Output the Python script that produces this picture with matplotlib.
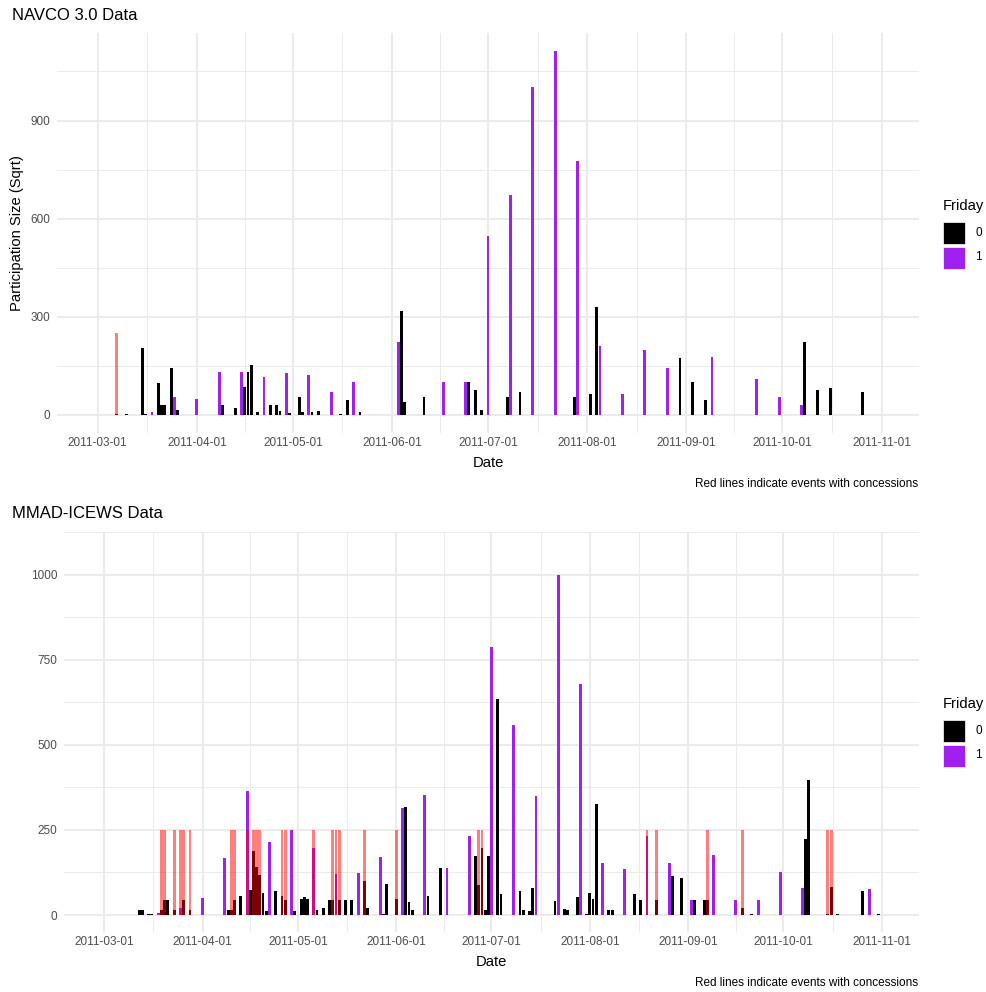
import matplotlib
matplotlib.use('Agg')
import matplotlib.pyplot as plt
from matplotlib.patches import Rectangle
import pandas as pd

plt.rcParams['font.family'] = ['Liberation Sans', 'DejaVu Sans']

W, H = 986, 992

# NAVCO 3.0 (participation size, sqrt)
navco_dates = ['2011-03-07', '2011-03-10', '2011-03-15', '2011-03-16', '2011-03-18', '2011-03-20',
               '2011-03-21', '2011-03-22', '2011-03-24', '2011-03-25', '2011-03-26', '2011-04-01',
               '2011-04-08', '2011-04-09', '2011-04-13', '2011-04-15', '2011-04-16', '2011-04-17',
               '2011-04-18', '2011-04-20', '2011-04-22', '2011-04-24', '2011-04-26', '2011-04-27',
               '2011-04-29', '2011-04-30', '2011-05-03', '2011-05-04', '2011-05-06', '2011-05-07',
               '2011-05-09', '2011-05-13', '2011-05-16', '2011-05-18', '2011-05-20', '2011-05-22',
               '2011-06-03', '2011-06-04', '2011-06-05', '2011-06-11', '2011-06-17', '2011-06-24',
               '2011-06-25', '2011-06-27', '2011-06-29', '2011-07-01', '2011-07-07', '2011-07-08',
               '2011-07-11', '2011-07-15', '2011-07-22', '2011-07-28', '2011-07-29', '2011-08-02',
               '2011-08-04', '2011-08-05', '2011-08-12', '2011-08-19', '2011-08-26', '2011-08-30',
               '2011-09-03', '2011-09-07', '2011-09-09', '2011-09-23', '2011-09-30', '2011-10-07',
               '2011-10-08', '2011-10-12', '2011-10-16', '2011-10-26']
navco_size = [3, 4, 204, 4, 8, 98,
              30, 30, 142, 54, 15, 48,
              130, 30, 22, 132, 84, 132,
              151, 9, 117, 30, 30, 13,
              127, 5, 54, 10, 122, 10,
              13, 71, 2, 45, 100, 9,
              222, 317, 38, 53, 99, 99,
              99, 76, 16, 548, 55, 672,
              69, 1002, 1112, 54, 776, 63,
              331, 209, 63, 199, 144, 173,
              99, 45, 176, 109, 54, 30,
              224, 77, 82, 69]
navco_concessions = ['2011-03-07']

# MMAD-ICEWS
mmad_dates = ['2011-03-12', '2011-03-13', '2011-03-15', '2011-03-16', '2011-03-18', '2011-03-19',
              '2011-03-20', '2011-03-21', '2011-03-23', '2011-03-25', '2011-03-26', '2011-03-28',
              '2011-04-01', '2011-04-08', '2011-04-09', '2011-04-10', '2011-04-11', '2011-04-13',
              '2011-04-15', '2011-04-16', '2011-04-17', '2011-04-18', '2011-04-19', '2011-04-20',
              '2011-04-21', '2011-04-22', '2011-04-24', '2011-04-26', '2011-04-27', '2011-04-29',
              '2011-04-30', '2011-05-02', '2011-05-03', '2011-05-04', '2011-05-06', '2011-05-07',
              '2011-05-09', '2011-05-11', '2011-05-12', '2011-05-13', '2011-05-14', '2011-05-16',
              '2011-05-18', '2011-05-20', '2011-05-22', '2011-05-23', '2011-05-27', '2011-05-28',
              '2011-05-29', '2011-06-01', '2011-06-03', '2011-06-04', '2011-06-05', '2011-06-06',
              '2011-06-10', '2011-06-11', '2011-06-15', '2011-06-17', '2011-06-24', '2011-06-26',
              '2011-06-27', '2011-06-28', '2011-06-29', '2011-06-30', '2011-07-01', '2011-07-03',
              '2011-07-04', '2011-07-08', '2011-07-10', '2011-07-11', '2011-07-13', '2011-07-14',
              '2011-07-15', '2011-07-21', '2011-07-22', '2011-07-24', '2011-07-25', '2011-07-28',
              '2011-07-29', '2011-07-31', '2011-08-01', '2011-08-02', '2011-08-03', '2011-08-05',
              '2011-08-07', '2011-08-08', '2011-08-12', '2011-08-15', '2011-08-17', '2011-08-19',
              '2011-08-22', '2011-08-26', '2011-08-27', '2011-08-30', '2011-09-02', '2011-09-03',
              '2011-09-06', '2011-09-07', '2011-09-09', '2011-09-16', '2011-09-18', '2011-09-21',
              '2011-09-23', '2011-09-30', '2011-10-07', '2011-10-08', '2011-10-09', '2011-10-15',
              '2011-10-16', '2011-10-18', '2011-10-26', '2011-10-28', '2011-10-31']
mmad_size = [14, 14, 4, 4, 6, 14,
             45, 45, 14, 20, 45, 14,
             51, 168, 14, 14, 45, 56,
             364, 74, 187, 140, 118, 65,
             13, 213, 70, 56, 45, 250,
             12, 46, 53, 47, 197, 16,
             20, 45, 45, 120, 45, 45,
             45, 123, 101, 21, 170, 4,
             92, 46, 313, 318, 38, 14,
             352, 56, 137, 137, 233, 173,
             89, 196, 16, 173, 788, 634,
             63, 559, 71, 14, 12, 78,
             351, 41, 998, 17, 14, 54,
             680, 4, 65, 46, 325, 153,
             14, 14, 134, 63, 45, 233,
             45, 153, 114, 110, 45, 45,
             45, 45, 176, 45, 21, 4,
             45, 127, 78, 224, 397, 4,
             83, 4, 70, 75, 4]
mmad_concessions = ['2011-03-19', '2011-03-20', '2011-03-23', '2011-03-25', '2011-03-26', '2011-03-28',
                    '2011-04-10', '2011-04-11', '2011-04-15', '2011-04-17', '2011-04-18', '2011-04-19',
                    '2011-04-26', '2011-04-27', '2011-05-06', '2011-05-12', '2011-05-13', '2011-05-14',
                    '2011-05-22', '2011-06-01', '2011-06-27', '2011-06-28', '2011-08-19', '2011-08-22',
                    '2011-09-07', '2011-09-18', '2011-10-15', '2011-10-16']
concession_height = 250

friday_labels = ['0', '1']
friday_colors = ['black', '#A020F0']
grey_text = '#4D4D4D'
grid_col = '#EBEBEB'

fig = plt.figure(figsize=(W / 100, H / 100), dpi=100)


def fx(x):
    return x / W


def fy(y):
    return 1 - y / H


def panel(box, dates, sizes, conc, yticks, ylim, title, ylabel, legend_y):
    l, t, r, b = box
    ax = fig.add_axes([fx(l), fy(b), (r - l) / W, (b - t) / H])
    d = pd.to_datetime(dates)
    cols = [friday_colors[1] if x.weekday() == 4 else friday_colors[0] for x in d]
    ax.bar(d, sizes, width=0.9, color=cols, linewidth=0, zorder=2)
    cd = pd.to_datetime(conc)
    ax.bar(cd, [concession_height] * len(cd), width=0.9, color='red', alpha=0.5,
           linewidth=0, zorder=3)

    start = pd.Timestamp('2011-03-01')
    ax.set_xlim(start - pd.Timedelta(days=12.7), start + pd.Timedelta(days=256.7))
    ax.set_ylim(*ylim)

    months = pd.date_range('2011-03-01', '2011-11-01', freq='MS')
    mids = [months[i] + (months[i + 1] - months[i]) / 2 for i in range(len(months) - 1)]
    ax.set_xticks(months)
    ax.set_xticklabels([m.strftime('%Y-%m-%d') for m in months])
    ax.set_xticks(mids, minor=True)
    ax.set_yticks(yticks)
    ax.set_yticklabels([str(v) for v in yticks])
    step = yticks[1] - yticks[0]
    ax.set_yticks([v + step / 2 for v in yticks], minor=True)

    ax.grid(which='major', color=grid_col, linewidth=1.4)
    ax.grid(which='minor', color=grid_col, linewidth=0.7)
    ax.set_axisbelow(True)
    for s in ax.spines.values():
        s.set_visible(False)
    ax.tick_params(which='both', length=0)
    ax.tick_params(axis='x', pad=3, labelsize=8.5, labelcolor=grey_text)
    ax.tick_params(axis='y', pad=5, labelsize=8.5, labelcolor=grey_text)

    fig.text(fx(12), fy(t - 18), title, fontsize=12, ha='left', va='center')
    fig.text(fx((l + r) / 2), fy(b + 30), 'Date', fontsize=10.6, ha='center', va='center')
    fig.text(fx(918), fy(b + 51), 'Red lines indicate events with concessions',
             fontsize=8.5, ha='right', va='center')
    if ylabel:
        fig.text(fx(17), fy((t + b) / 2), ylabel, fontsize=10.6, rotation=90,
                 ha='center', va='center')

    # legend
    fig.text(fx(943), fy(legend_y), 'Friday', fontsize=10.6, ha='left', va='center')
    for i, (lab, c) in enumerate(zip(friday_labels, friday_colors)):
        ky = legend_y + 16 + i * 24.5
        fig.add_artist(Rectangle((fx(943), fy(ky + 22)), 22 / W, 22 / H,
                                 transform=fig.transFigure, facecolor=c,
                                 edgecolor='white', linewidth=0.5))
        fig.text(fx(975), fy(ky + 11), lab, fontsize=8.5, ha='left', va='center')
    return ax


panel((57, 33, 919, 433), navco_dates, navco_size, navco_concessions,
      [0, 300, 600, 900], (-55.6, 1167.6), 'NAVCO 3.0 Data', 'Participation Size (Sqrt)', 206)
panel((64, 532, 919, 932), mmad_dates, mmad_size, mmad_concessions,
      [0, 250, 500, 750, 1000], (-49.9, 1047.9), 'MMAD-ICEWS Data', None, 704)

fig.savefig('out.png', dpi=100, facecolor='white')
